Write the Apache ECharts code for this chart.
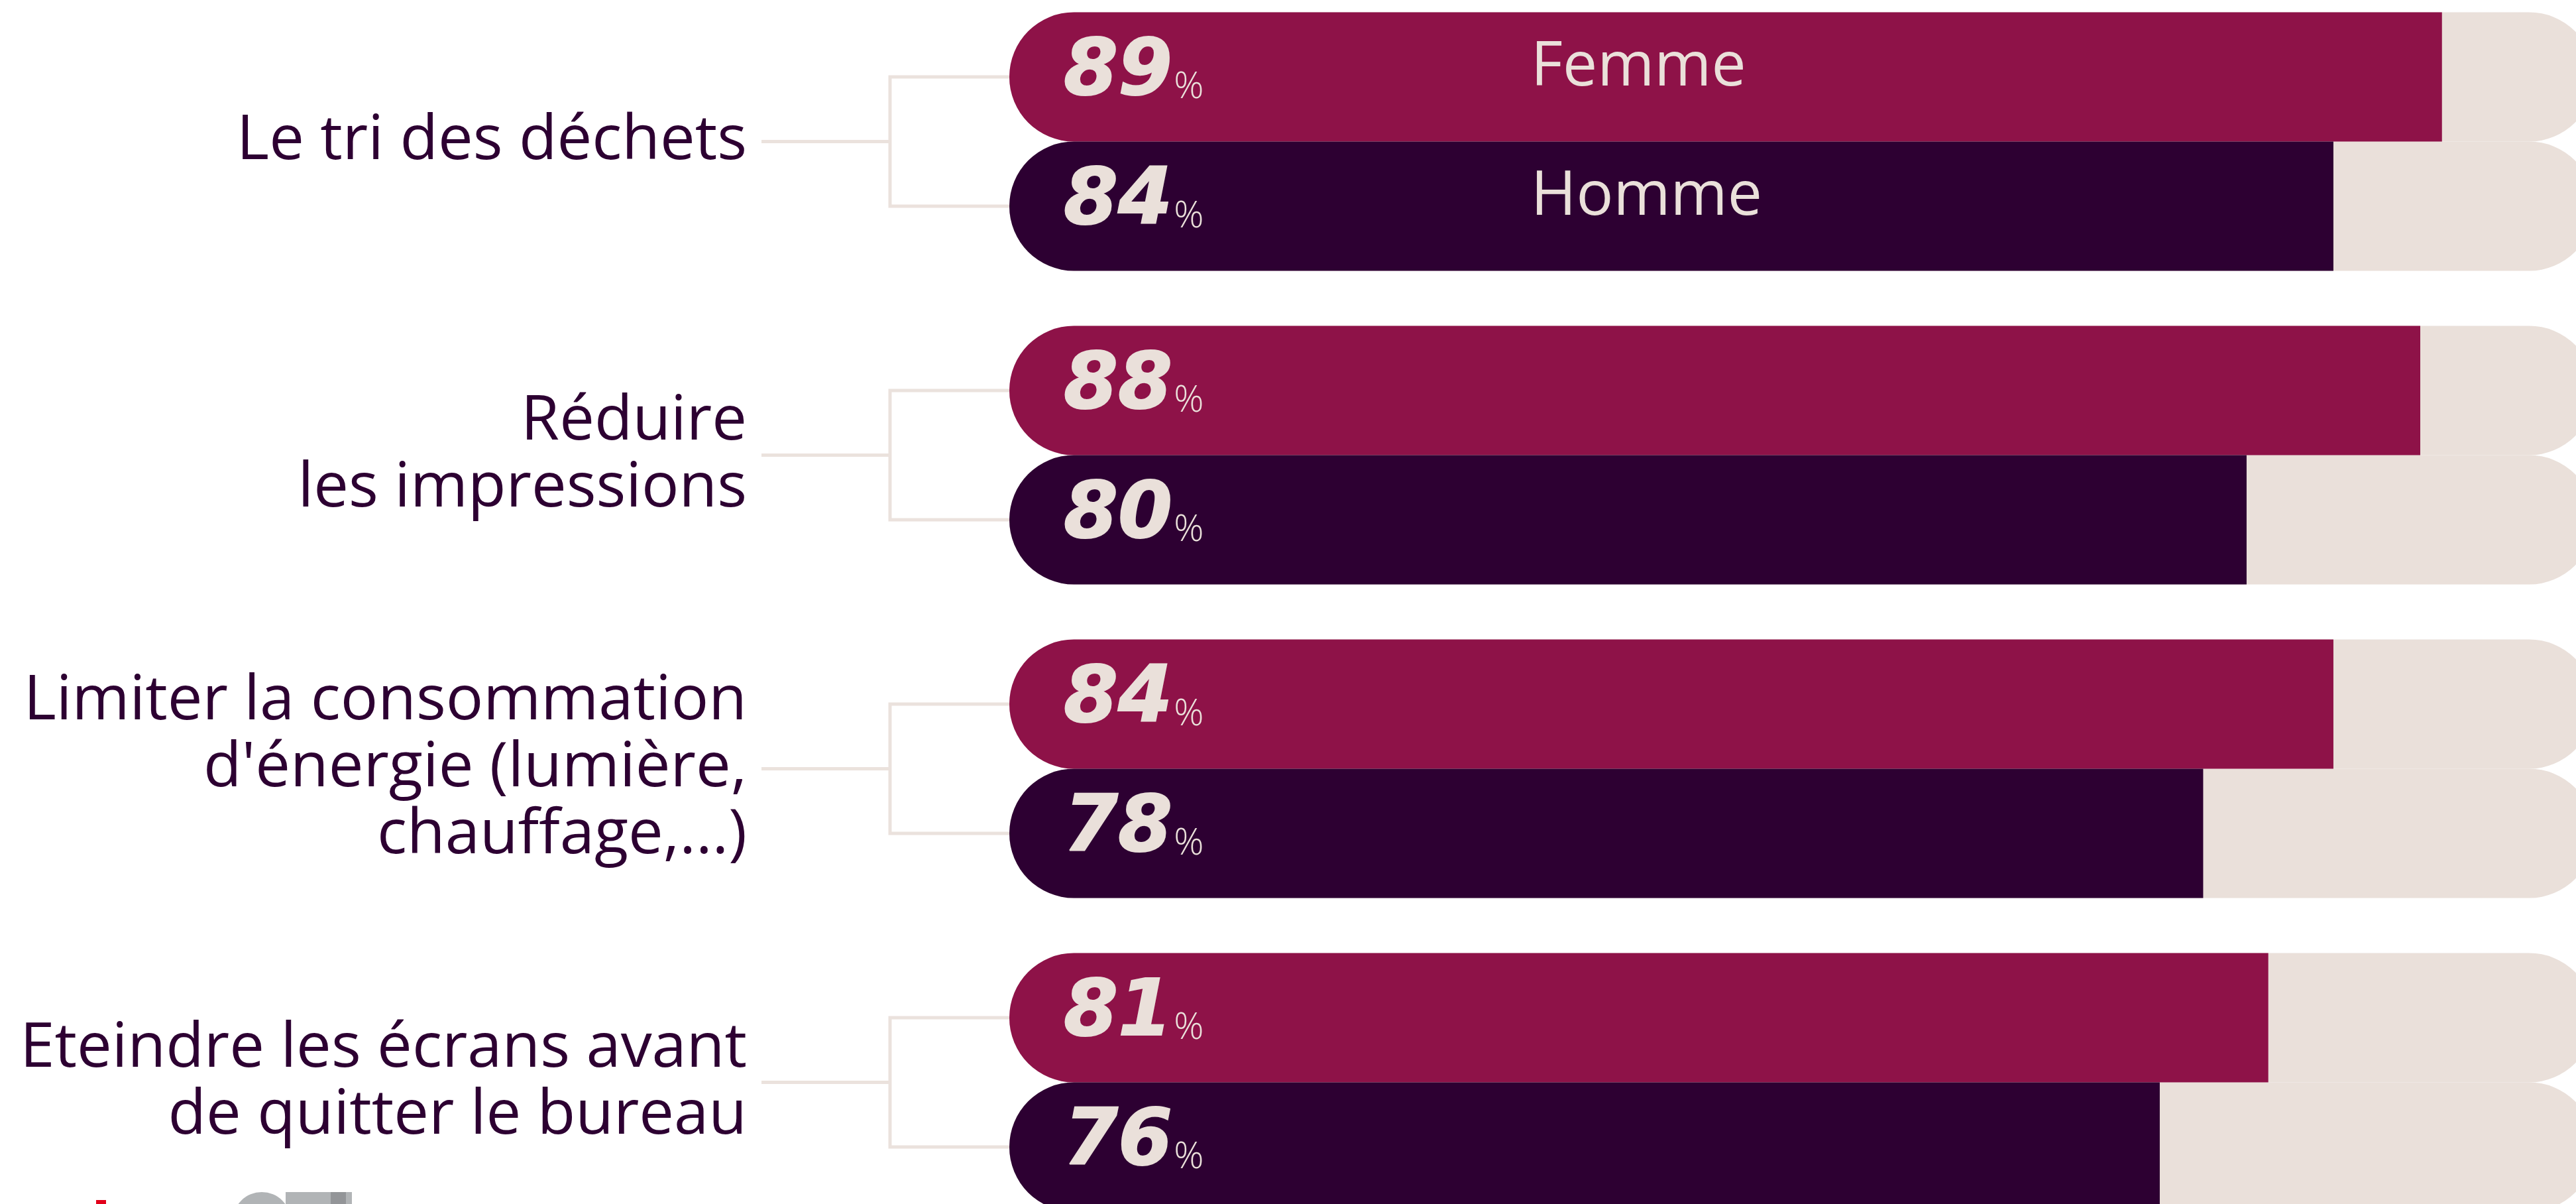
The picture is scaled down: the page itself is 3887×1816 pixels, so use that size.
<!DOCTYPE html>
<html>
<head>
<meta charset="utf-8">
<script src="https://cdn.jsdelivr.net/npm/echarts@6/dist/echarts.min.js"></script>
<style>
    html, body {margin: 0; padding: 0; background: #fff; overflow: hidden;}
    /* le graphique déborde un peu du cadre, comme l'original recadré */
    #main {position: absolute; left: 0; top: -23px; width: 3914px; height: 1892px;}
</style>
</head>
<body>
<div id="main"></div>
<script>
// données
let categories = [
    'Le tri des déchets',
    'Réduire\nles impressions',
    "Limiter la consommation\nd'énergie (lumière,\nchauffage,...)",
    'Eteindre les écrans avant\nde quitter le bureau'
];
let femme = [89, 88, 84, 81];
let homme = [84, 80, 78, 76];
let seriesNames = ['Femme', 'Homme'];

let colorFemme = '#8e1248', colorHomme = '#2d0032', colorBg = '#eae0da', colorText = '#2d0032';
let barW = 195, xMin = 23, xMax = 96;
let dy = 23; // décalage du conteneur

let myChart = echarts.init(document.getElementById('main'));

function barSeries(name, data, color) {
    return {
        name: name,
        type: 'bar',
        data: data,
        barWidth: barW,
        barGap: '0%',
        clip: true,
        z: 2,
        itemStyle: {color: color, borderRadius: [barW / 2, 0, 0, barW / 2]},
        showBackground: true,
        backgroundStyle: {color: colorBg, borderRadius: barW / 2},
        label: {
            show: true,
            position: 'insideLeft',
            distance: 82,
            offset: [0, -6],
            formatter: '{n|{c}}{p|%}',
            rich: {
                n: {
                    fontFamily: 'DejaVu Sans', fontWeight: 'bold', fontStyle: 'italic', fontSize: 118, lineHeight: 120,
                    color: colorBg, textBorderColor: colorBg, textBorderWidth: 2, verticalAlign: 'bottom'
                },
                p: {fontFamily: 'Open Sans', fontWeight: 300, fontSize: 56, lineHeight: 56, color: colorBg, verticalAlign: 'bottom', padding: [0, 0, 10, 2]}
            }
        }
    };
}

// accolades entre libellé et barres
function bracketItem(params, api) {
    let p = api.coord([api.value(0), api.value(1)]);
    let x0 = p[0], yc = p[1], half = barW / 2;
    let xv = x0 - 180, xl = x0 - 374;
    let style = {stroke: '#ebe2dd', lineWidth: 5, fill: null};
    return {
        type: 'group',
        children: [
            {type: 'line', shape: {x1: xl, y1: yc, x2: xv, y2: yc}, style: style},
            {type: 'polyline', shape: {points: [[x0 + 30, yc - half], [xv, yc - half], [xv, yc + half], [x0 + 30, yc + half]]}, style: style}
        ]
    };
}

let option = {
    backgroundColor: '#ffffff',
    animation: false,
    grid: {left: 1523, right: 0, top: 0, bottom: 0},
    legend: {
        data: seriesNames,
        orient: 'vertical',
        left: 2300,
        top: 22 + dy,
        icon: 'none',
        itemWidth: 0,
        itemHeight: 0,
        itemGap: 45,
        selectedMode: false,
        textStyle: {fontFamily: 'Open Sans', fontSize: 93, lineHeight: 150, color: colorBg}
    },
    xAxis: {
        type: 'value',
        min: xMin,
        max: xMax,
        show: false,
        splitLine: {show: false}
    },
    yAxis: {
        type: 'category',
        inverse: true,
        data: categories,
        axisLine: {show: false},
        axisTick: {show: false},
        axisLabel: {
            margin: 396,
            fontFamily: 'Open Sans',
            fontSize: 94,
            lineHeight: 101,
            color: colorText,
            align: 'right'
        }
    },
    series: [
        barSeries(seriesNames[0], femme, colorFemme),
        barSeries(seriesNames[1], homme, colorHomme),
        {
            type: 'custom',
            z: 1,
            silent: true,
            renderItem: bracketItem,
            encode: {x: 0, y: 1},
            data: categories.map(function (c, i) { return [xMin, i]; })
        }
    ],
    graphic: [
        // logo coupé en bas à gauche
        {type: 'circle', shape: {cx: 395, cy: 1842 + dy, r: 44}, style: {fill: '#b1b4b6'}, silent: true},
        {type: 'rect', shape: {x: 431, y: 1798 + dy, width: 100, height: 30}, style: {fill: '#b1b4b6'}, silent: true},
        {type: 'rect', shape: {x: 499, y: 1798 + dy, width: 23, height: 30}, style: {fill: '#939598'}, silent: true},
        {type: 'rect', shape: {x: 145, y: 1810 + dy, width: 15, height: 8}, style: {fill: '#e2001a'}, silent: true}
    ]
};
myChart.setOption(option);
</script>
</body>
</html>
